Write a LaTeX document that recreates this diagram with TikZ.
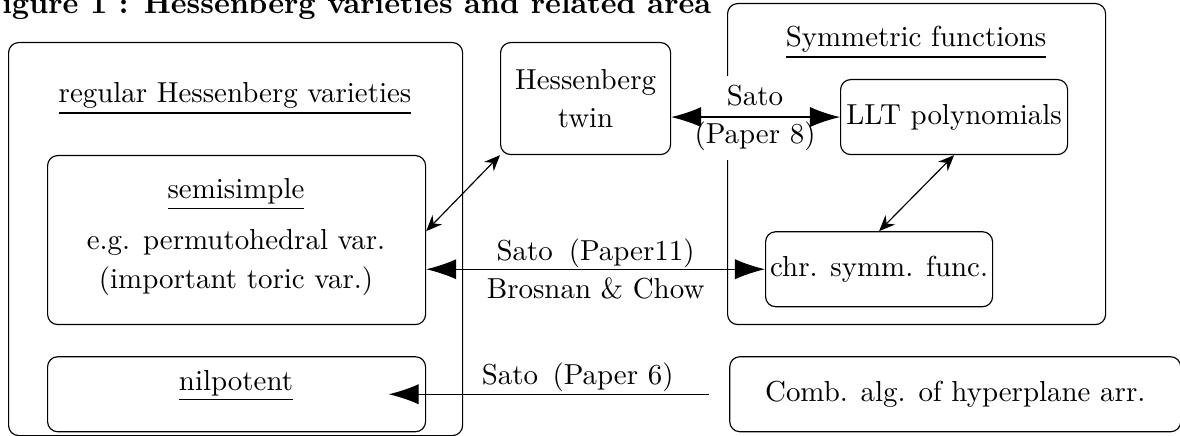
\documentclass[tikz,border=0pt]{standalone}
\usepackage{tikz}
\usetikzlibrary{arrows.meta,positioning}

\newcommand{\pxu}{0.3458pt}

\tikzset{
  area/.style={draw, rounded corners=3.5pt, inner sep=0pt},
  item/.style={draw, rounded corners=3.5pt, inner sep=0pt, align=center},
  heavy/.style={>={Latex[length=10.4pt,width=7pt]}},
  light/.style={>={Stealth[length=5.5pt,width=4.6pt,inset=1.8pt]}},
}

\begin{document}
\begin{tikzpicture}[x=\pxu, y=-\pxu, font=\fontsize{10}{13}\selectfont]
  \useasboundingbox (0,0) rectangle (1180,436);

  % title (cut at the left edge)
  \node[anchor=base west, inner sep=0pt, font=\fontsize{10.4}{13}\selectfont\bfseries] (title) at (-20,14)
    {Figure 1 : Hessenberg varieties and related area};

  % regular Hessenberg varieties
  \node[area, minimum width=454*\pxu, minimum height=393*\pxu, anchor=north west] (reg) at (8,42) {};
  \node[anchor=base] (regname) at (235,103) {\underline{regular Hessenberg varieties}};

  \node[area, minimum width=378*\pxu, minimum height=169*\pxu, anchor=north west] (semi) at (47,155) {};
  \node[anchor=base] (seminame) at (236,199) {\underline{semisimple}};
  \node[anchor=base] (semiex) at (236,250) {e.g. permutohedral var.};
  \node[anchor=base] (semitoric) at (236,289) {(important toric var.)};

  \node[area, minimum width=378*\pxu, minimum height=75*\pxu, below=31*\pxu of semi] (nilp) {};
  \node[anchor=base] (nilpname) at (236,390) {\underline{nilpotent}};

  \node[item, minimum width=170*\pxu, minimum height=112*\pxu, anchor=north west] (twin) at (500,42) {Hessenberg\\twin};

  % symmetric functions
  \node[area, minimum width=378*\pxu, minimum height=321*\pxu, anchor=north west] (sym) at (727,3) {};
  \node[anchor=base] (symname) at (916,47) {\underline{Symmetric functions}};
  \node[item, minimum width=227*\pxu, minimum height=75*\pxu, anchor=north west] (llt) at (840,79) {LLT polynomials};
  \node[item, minimum width=227*\pxu, minimum height=75*\pxu, below=76*\pxu of llt, xshift=-75*\pxu] (chr) {chr. symm. func.};

  \node[item, minimum width=451*\pxu, minimum height=75*\pxu, right=303*\pxu of nilp] (comb) {Comb. alg. of hyperplane arr.};

  % connections
  \node[fill=white, align=center, inner sep=3.33pt] (lbltwin) at (755,118) {Sato\\(Paper 8)};
  \draw[heavy, <->] (twin.east |- llt.west) -- (llt.west);
  \draw[light, <->] (llt.south) -- (chr.north);
  \draw[light, <->] (semi.east |- chr.north) -- (twin.south west);
  \draw[heavy, <->] (semi.east |- chr.west) --
    node[anchor=base, yshift=3.1pt] {Sato\hspace{0.55em}(Paper11)}
    node[anchor=base, yshift=-10pt] {Brosnan \& Chow} (chr.west);
  \draw[heavy, ->, shorten <=7pt, shorten >=-13pt] (comb.west) --
    node[anchor=base, yshift=3.3pt] {Sato\hspace{0.5em}(Paper 6)} (nilp.east);
\end{tikzpicture}
\end{document}
